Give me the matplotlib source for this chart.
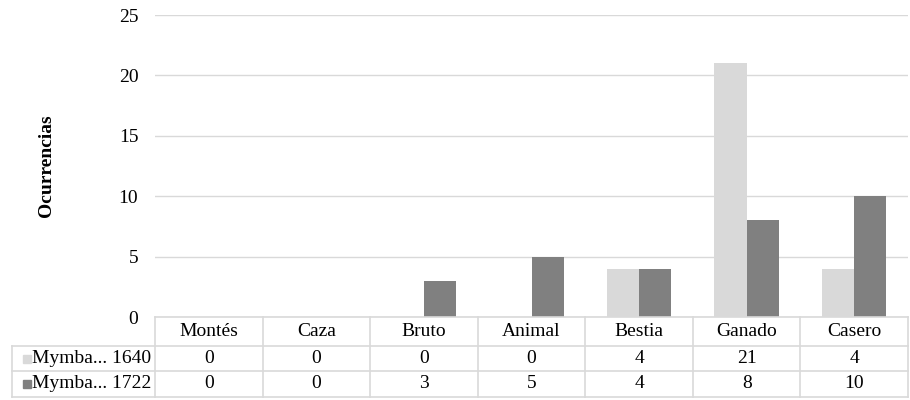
import matplotlib.pyplot as plt
import numpy as np
from matplotlib.patches import Rectangle

plt.rcParams['font.family'] = ['Liberation Serif', 'DejaVu Serif']

categories = ['Montés', 'Caza', 'Bruto', 'Animal', 'Bestia', 'Ganado', 'Casero']
series_names = ['Mymba... 1640', 'Mymba... 1722']
vals_1640 = [0, 0, 0, 0, 4, 21, 4]
vals_1722 = [0, 0, 3, 5, 4, 8, 10]
colors = ['#d9d9d9', '#808080']
grid_col = '#d9d9d9'

fig = plt.figure(figsize=(9.1, 4.0), dpi=100)
ax = fig.add_axes([155 / 910, 1 - 317 / 400, 753 / 910, 302 / 400])

x = np.arange(len(categories))
w = 0.3
ax.bar(x - w / 2, vals_1640, w, color=colors[0], zorder=2)
ax.bar(x + w / 2, vals_1722, w, color=colors[1], zorder=2)

ax.set_xlim(-0.5, len(categories) - 0.5)
ax.set_ylim(0, 25)
ax.set_yticks(range(0, 26, 5))
ax.yaxis.grid(True, color=grid_col, linewidth=1)
ax.set_axisbelow(True)
ax.set_xticks([])
ax.tick_params(axis='y', length=0, labelsize=14, pad=12)
for s in ax.spines.values():
    s.set_visible(False)
ax.set_ylabel('Ocurrencias', fontsize=14, fontweight='bold', labelpad=46)

# data table under the plot
ax_h = 302.0
row_b = [0, -29 / ax_h, -54 / ax_h, -80 / ax_h]
left = -143 / 753.0
tr = ax.get_xaxis_transform()
lk = dict(color=grid_col, linewidth=1.2, clip_on=False, transform=ax.transAxes)

# horizontal lines
ax.plot([0, 1], [row_b[0], row_b[0]], **lk)
for yb in row_b[1:]:
    ax.plot([left, 1], [yb, yb], **lk)
# vertical lines
for i in range(len(categories) + 1):
    xf = i / len(categories)
    ax.plot([xf, xf], [row_b[0], row_b[3]], **lk)
ax.plot([left, left], [row_b[1], row_b[3]], **lk)

for i, c in enumerate(categories):
    ax.text(i, (row_b[0] + row_b[1]) / 2, c, transform=tr, ha='center', va='center',
            fontsize=14, clip_on=False)
    for r, vals in enumerate([vals_1640, vals_1722]):
        ax.text(i, (row_b[r + 1] + row_b[r + 2]) / 2, str(vals[i]), transform=tr,
                ha='center', va='center', fontsize=14, clip_on=False)

for r, name in enumerate(series_names):
    yc = (row_b[r + 1] + row_b[r + 2]) / 2
    ax.add_patch(Rectangle((left + 11 / 753, yc - 4 / ax_h), 8 / 753, 8 / ax_h,
                           color=colors[r], transform=ax.transAxes, clip_on=False))
    ax.text(left + 20 / 753, yc, name, transform=ax.transAxes, ha='left', va='center',
            fontsize=14, clip_on=False)

fig.savefig('out.png', dpi=100)
